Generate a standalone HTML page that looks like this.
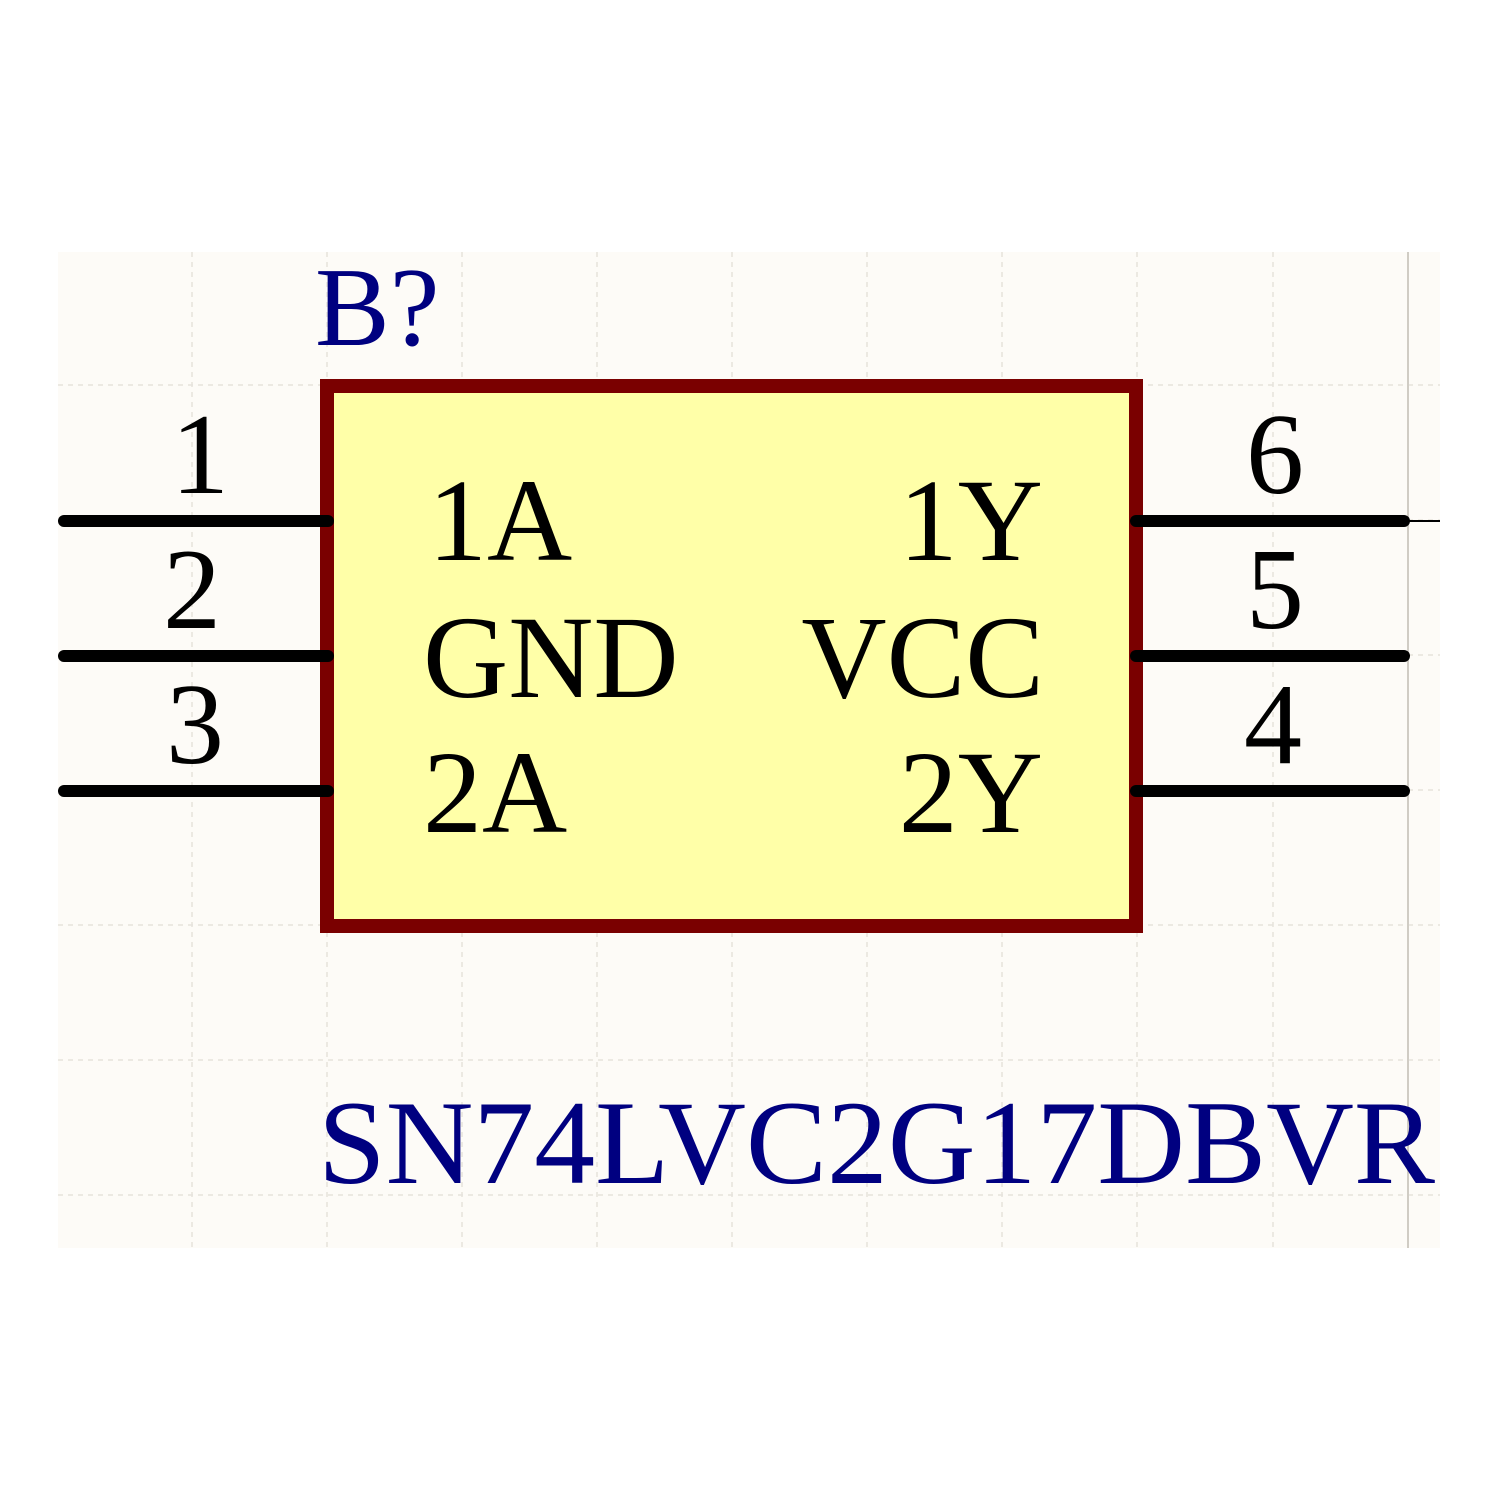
<!DOCTYPE html>
<html><head><meta charset="utf-8"><style>html,body{margin:0;padding:0;background:#fff}svg{display:block}</style></head>
<body>
<svg width="1500" height="1500" viewBox="0 0 1500 1500" xmlns="http://www.w3.org/2000/svg" font-family="'Liberation Serif', serif">
<rect x="58" y="252" width="1382" height="996" fill="#fdfbf7"/>
<g stroke="#e6e3dc" stroke-width="1.5" stroke-dasharray="5,5">
<line x1="192" y1="252" x2="192" y2="1248"/><line x1="327" y1="252" x2="327" y2="1248"/>
<line x1="462" y1="252" x2="462" y2="1248"/><line x1="597" y1="252" x2="597" y2="1248"/>
<line x1="732" y1="252" x2="732" y2="1248"/><line x1="867" y1="252" x2="867" y2="1248"/>
<line x1="1002" y1="252" x2="1002" y2="1248"/><line x1="1137" y1="252" x2="1137" y2="1248"/>
<line x1="1273" y1="252" x2="1273" y2="1248"/>
<line x1="58" y1="385" x2="1440" y2="385"/><line x1="58" y1="520" x2="1440" y2="520"/>
<line x1="58" y1="655" x2="1440" y2="655"/><line x1="58" y1="790" x2="1440" y2="790"/>
<line x1="58" y1="925" x2="1440" y2="925"/><line x1="58" y1="1060" x2="1440" y2="1060"/>
<line x1="58" y1="1195" x2="1440" y2="1195"/>
</g>
<line x1="1408" y1="252" x2="1408" y2="1248" stroke="#d0ccc4" stroke-width="2"/>
<rect x="327" y="386" width="809" height="540" fill="#ffffa8" stroke="#7a0000" stroke-width="14"/>
<g stroke="#000" stroke-width="12" stroke-linecap="round">
<line x1="64" y1="521" x2="328" y2="521"/><line x1="64" y1="656" x2="328" y2="656"/><line x1="64" y1="791" x2="328" y2="791"/>
<line x1="1136" y1="521" x2="1404" y2="521"/><line x1="1136" y1="656" x2="1404" y2="656"/><line x1="1136" y1="791" x2="1404" y2="791"/>
</g>
<line x1="1408" y1="521" x2="1440" y2="521" stroke="#000" stroke-width="2"/>
<g fill="#000" font-size="116" text-anchor="middle">
<text x="200" y="493">1</text><text x="192" y="628">2</text><text x="195" y="763">3</text>
<text x="1275" y="493">6</text><text x="1275" y="628">5</text><text x="1273" y="763">4</text>
</g>
<g fill="#000" font-size="118">
<text x="428" y="560">1A</text><text x="423" y="697">GND</text><text x="423" y="832">2A</text>
</g>
<g fill="#000" font-size="118" text-anchor="end">
<text x="1043" y="560">1Y</text><text x="1044" y="697">VCC</text><text x="1043" y="832">2Y</text>
</g>
<text x="315" y="345" fill="#000080" font-size="112">B?</text>
<text x="318" y="1183" fill="#000080" font-size="120" textLength="1117" lengthAdjust="spacingAndGlyphs">SN74LVC2G17DBVR</text>
</svg>
</body></html>
